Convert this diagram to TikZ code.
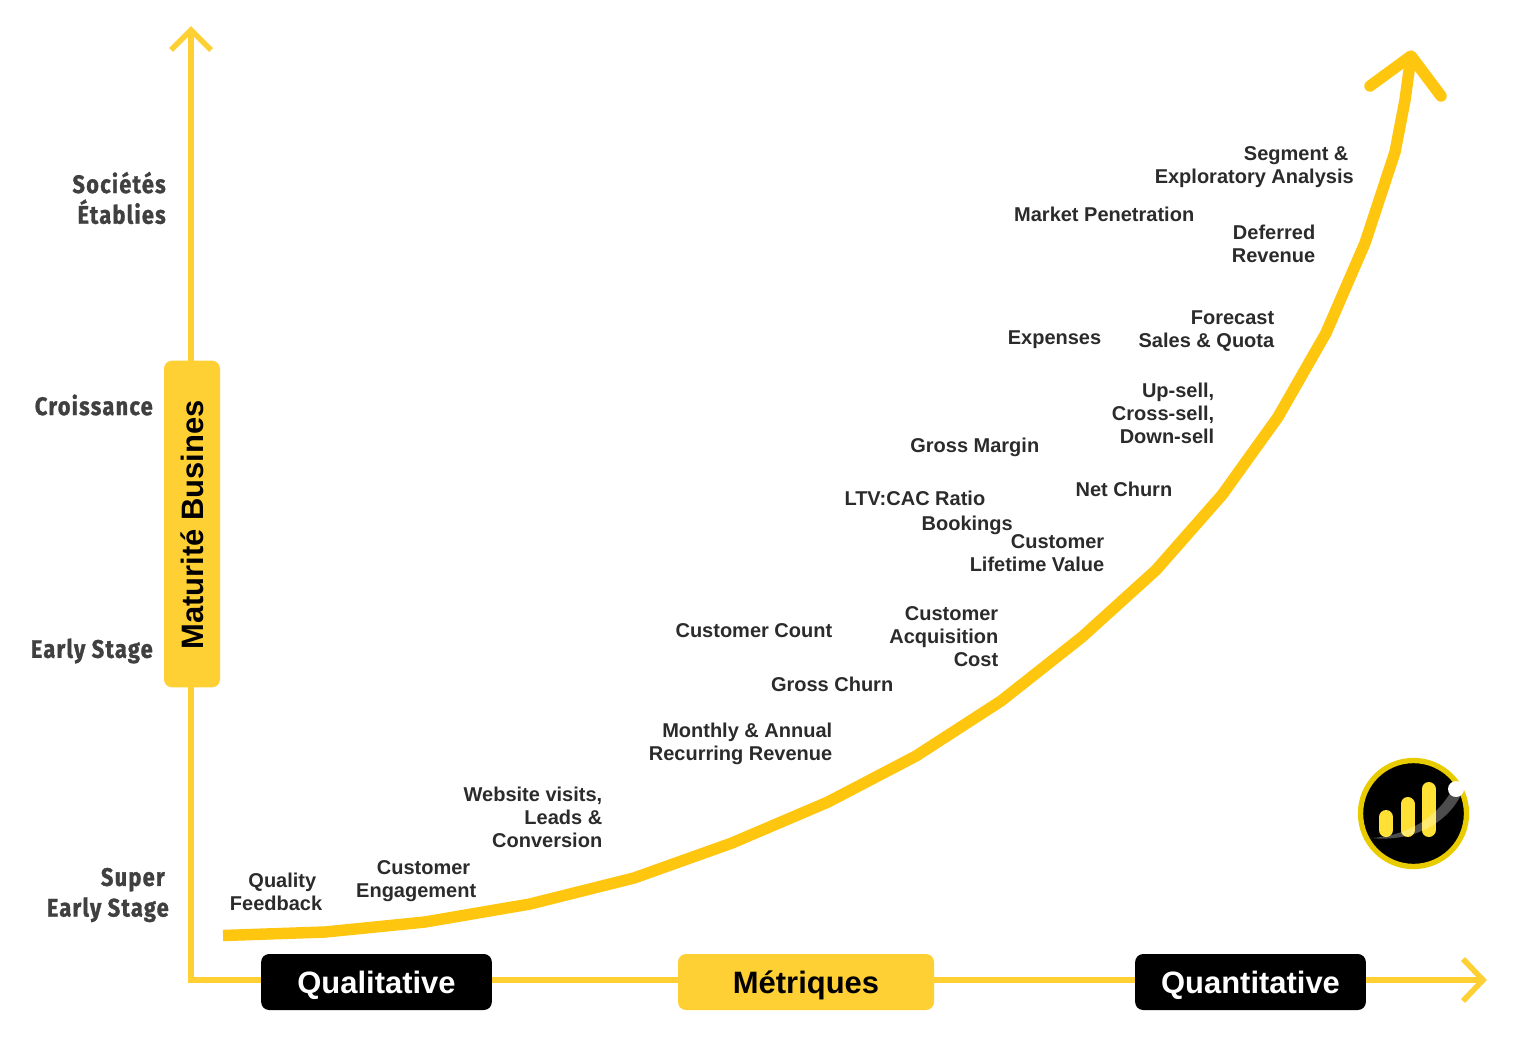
\documentclass[tikz,border=0pt]{standalone}
\usepackage{fontspec}
\setmainfont{Liberation Sans}
\newfontfamily\stagefont[FakeStretch=0.86,FakeBold=1.2,LetterSpace=5]{Fira Sans}
\usetikzlibrary{arrows.meta}
\definecolor{axisyellow}{HTML}{FFD033}
\definecolor{curveyellow}{HTML}{FFC60F}
\definecolor{logoring}{HTML}{E8CC00}
\definecolor{logobar}{HTML}{FFE135}
\definecolor{labelgray}{HTML}{2B2B2B}
\definecolor{stagegray}{HTML}{404040}
\tikzset{
  metric/.style={font=\fontsize{15}{17.25}\selectfont\bfseries, text=labelgray, align=right, anchor=east, inner sep=0pt},
  stagelabel/.style={font=\stagefont\fontsize{19}{23}\selectfont\bfseries, text=stagegray, align=right, anchor=east, inner sep=0pt},
  axisbox/.style={rounded corners=6pt, minimum height=42pt, inner sep=0pt},
  axistext/.style={font=\fontsize{23.2}{26}\selectfont\bfseries, inner sep=0pt},
  axisline/.style={line width=4.2pt, draw=axisyellow},
  logobarline/.style={line width=10.5pt, line cap=round, draw=logobar}
}
\begin{document}
\begin{tikzpicture}[x=0.75pt,y=-0.75pt]
  \useasboundingbox (0,0) rectangle (1523,1049);

  % Axes
  \coordinate (origin) at (191,980);
  \coordinate (ytop) at (191,30);
  \coordinate (xend) at (1483,980);
  \draw[axisline] (ytop) -- (origin) -- (xend);
  \draw[axisline] (171,50) -- (ytop) -- (211,50);
  \draw[axisline] (1463,959) -- (xend) -- (1463,1001);

  % Growth curve
  \draw[line width=8.6pt, draw=curveyellow, line join=round]
    (223,935.5) -- (325,932) -- (425,922) -- (530,904) -- (634,878) -- (732,843)
    -- (828,802) -- (916,756) -- (1001,701) -- (1082,637) -- (1156,570) -- (1222,495)
    -- (1278,417) -- (1326,333) -- (1365,243) -- (1395,152) -- (1405,100) -- (1411,56);
  \draw[line width=8.6pt, draw=curveyellow, line cap=round, line join=round]
    (1370,86) -- (1411,56) -- (1441,96);

  % Axis boxes
  \node[axisbox, fill=black, minimum width=173pt] (qualitative) at (376.5,982) {};
  \node[axistext, text=white] at (376.5,985) {Qualitative};
  \node[axisbox, fill=axisyellow, minimum width=192pt] (metriques) at (806,982) {};
  \node[axistext, text=black] at (806,985) {Métriques};
  \node[axisbox, fill=black, minimum width=173pt] (quantitative) at (1250.5,982) {};
  \node[axistext, text=white] at (1250.5,985) {Quantitative};
  \node[axisbox, fill=axisyellow, minimum width=245pt, rotate=90] (maturite) at (192,524) {};
  \node[axistext, text=black, rotate=90] at (192,525) {Maturité Busines};

  % Stages
  \node[stagelabel] (etablies) at (166,198) {Sociétés\\Établies};
  \node[stagelabel] (croissance) at (153,405) {Croissance};
  \node[stagelabel] (early) at (153,651) {Early Stage};
  \node[stagelabel] (superearly) at (169,895) {Super\hspace*{3pt}\\Early Stage};

  % Metrics
  \node[metric] (feedback) at (322.5,892) {Quality\hspace*{4.5pt}\\Feedback};
  \node[metric] (engagement) at (476.5,881) {Customer\hspace*{4.5pt}\\Engagement};
  \node[metric] (website) at (602.5,817) {Website visits,\\Leads \&\\Conversion};
  \node[metric] (recurring) at (832.5,744) {Monthly \& Annual\\Recurring Revenue};
  \node[metric] (grosschurn) at (893.5,684) {Gross Churn};
  \node[metric] (count) at (832.5,631) {Customer Count};
  \node[metric] (acquisition) at (998.5,637) {Customer\\Acquisition\\Cost};
  \node[metric] (lifetime) at (1104.5,553) {Customer\\Lifetime Value};
  \node[metric] (bookings) at (1013,525) {Bookings};
  \node[metric] (ltv) at (985.5,498) {LTV:CAC Ratio};
  \node[metric] (netchurn) at (1172.5,489) {Net Churn};
  \node[metric] (margin) at (1039.5,447) {Gross Margin};
  \node[metric] (upsell) at (1214.5,413) {Up-sell,\\Cross-sell,\\Down-sell};
  \node[metric] (expenses) at (1101.5,340) {Expenses};
  \node[metric] (forecast) at (1274.5,331) {Forecast\\Sales \& Quota};
  \node[metric] (deferred) at (1315.5,244) {Deferred\\Revenue};
  \node[metric] (penetration) at (1194.5,214) {Market Penetration};
  \node[metric] (segment) at (1354,167) {Segment \&\hspace*{4pt}\\Exploratory Analysis};

  % Logo
  \fill[black] (1413.5,813.5) circle (53.5);
  \draw[logoring, line width=4pt] (1413.5,813.5) circle (53);
  \draw[logobarline] (1386,817) -- (1386,830);
  \draw[logobarline] (1407.5,804) -- (1407.5,830);
  \draw[logobarline] (1428.5,789) -- (1428.5,830);
  \fill[white, fill opacity=0.3] (1371,838) .. controls (1405,836) and (1435,820) .. (1452,790)
    -- (1461,795) .. controls (1445,826) and (1410,842) .. (1371,838) -- cycle;
  \fill[white] (1456,789) circle (8);
\end{tikzpicture}
\end{document}
